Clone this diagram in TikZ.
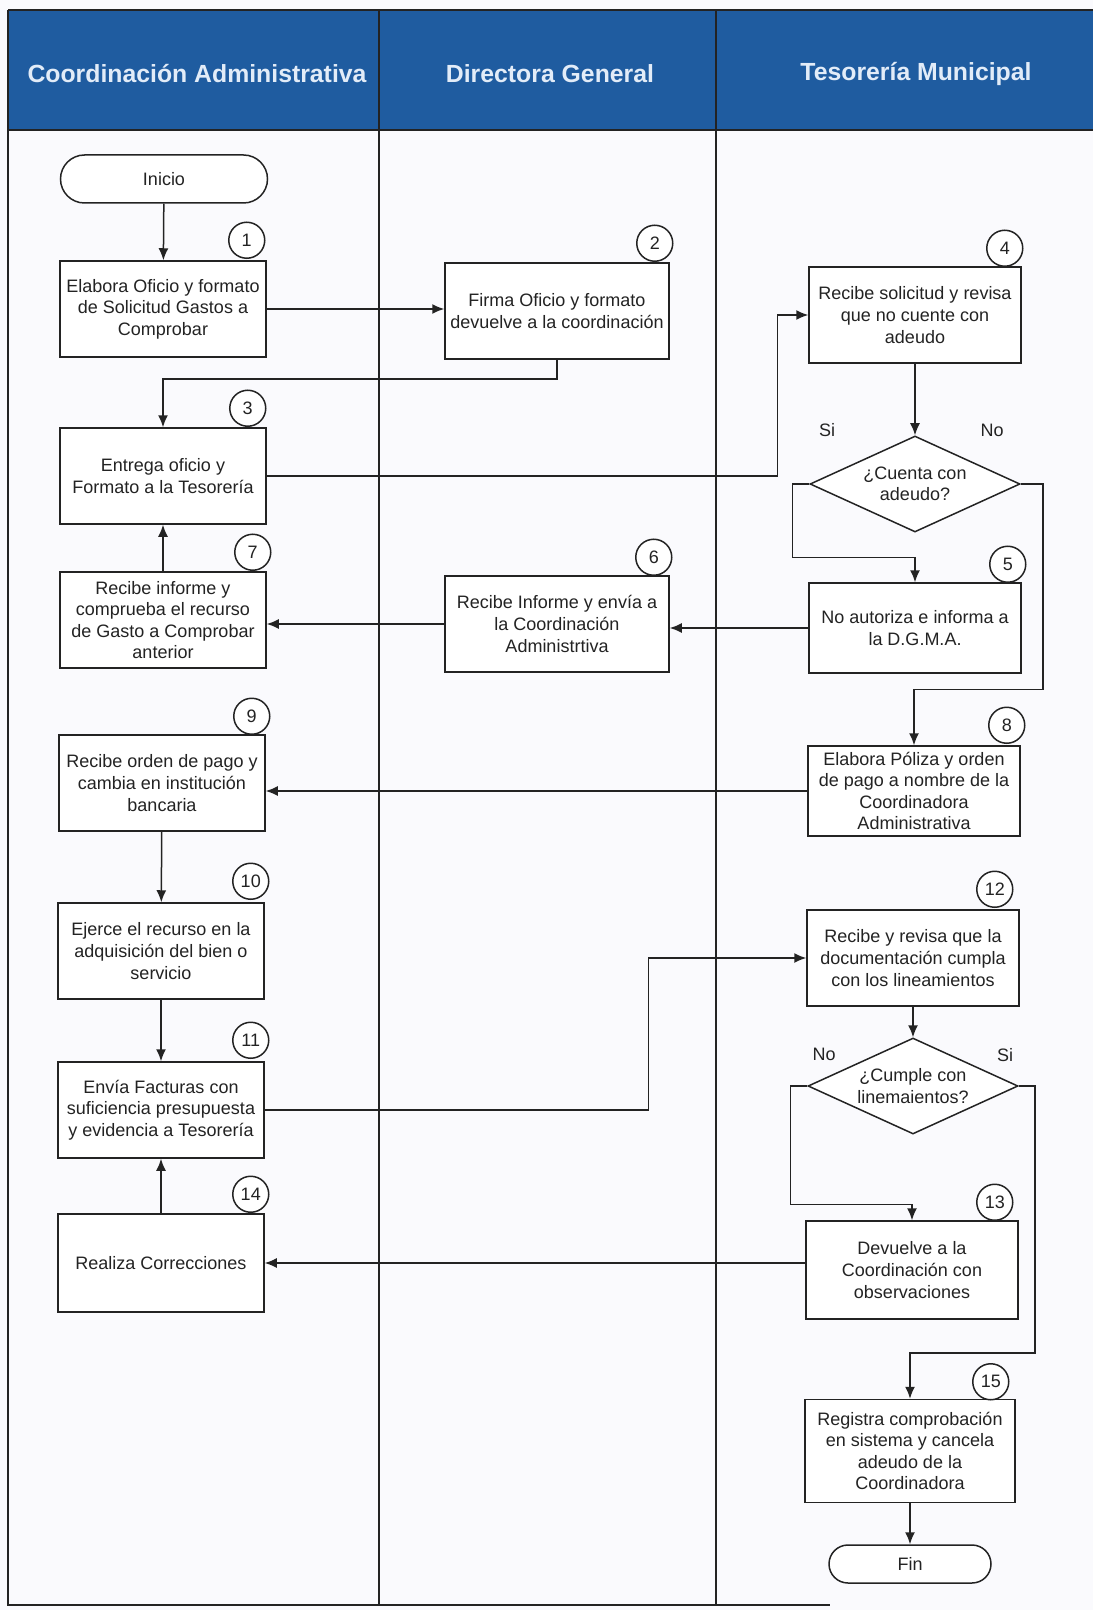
\documentclass[tikz,border=0pt]{standalone}
\usepackage{fontspec}
\setmainfont{Liberation Sans}
\usetikzlibrary{shapes.geometric,arrows.meta}
\definecolor{headblue}{RGB}{31,92,160}
\definecolor{headtext}{RGB}{226,236,248}
\definecolor{paper}{RGB}{250,250,253}
\definecolor{ink}{RGB}{35,35,35}

\begin{document}
\begin{tikzpicture}[x=0.5pt,y=-0.5pt,line width=0.75pt,draw=ink,
    every node/.style={font=\fontsize{9}{10.8}\selectfont,text=ink},
    proc/.style={draw,fill=white,rectangle,align=center,inner sep=0pt,minimum height=48pt},
    coordbox/.style={proc,minimum width=103pt},
    dirbox/.style={proc,minimum width=112pt},
    tesbox/.style={proc,minimum width=106pt},
    term/.style={draw,fill=white,rectangle,align=center,inner sep=0pt},
    decision/.style={draw,fill=white,diamond,aspect=2.2,align=center,inner sep=0pt,minimum width=105pt,minimum height=48pt},
    num/.style={draw,fill=white,circle,minimum size=18pt,inner sep=0pt},
    lanehead/.style={font=\fontsize{12.4}{14}\selectfont\bfseries,text=headtext},
    arr/.style={-{Latex[length=6pt,width=5pt]}}]
        \fill[paper] (0,0) rectangle (1093,1610);
        \fill[headblue] (8,10) rectangle (1093,130);
        \draw (8,10) -- (1093,10);
        \draw (8,130) -- (1093,130);
        \draw (8,10) -- (8,1605) -- (830,1605);
        \draw (379,10) -- (379,1605);
        \draw (716,10) -- (716,1605);
        \node[lanehead] (h1) at (197,74) {Coordinación Administrativa};
        \node[lanehead] (h2) at (550,74) {Directora General};
        \node[lanehead] (h3) at (916,74) {Tesorería Municipal};

        \node[term,minimum width=103.5pt,minimum height=24pt,rounded corners=12pt] (inicio) at (164,179) {Inicio};
        \node[coordbox] (b1) at (163,309) {Elabora Oficio y formato\\de Solicitud Gastos a\\Comprobar};
        \node[dirbox] (b2) at (557,311) {Firma Oficio y formato\\devuelve a la coordinación};
        \node[tesbox] (b4) at (915,315) {Recibe solicitud y revisa\\que no cuente con\\adeudo};
        \node[coordbox] (b3) at (163,476) {Entrega oficio y\\Formato a la Tesorería};
        \node[decision] (d1) at (915,484) {¿Cuenta con\\adeudo?};
        \node (si1) at (827,430) {Si};
        \node (no1) at (992,430) {No};
        \node[tesbox,minimum height=45pt] (b5) at (915,628) {No autoriza e informa a\\la D.G.M.A.};
        \node[dirbox] (b6) at (557,624) {Recibe Informe y envía a\\la Coordinación\\Administrtiva};
        \node[coordbox] (b7) at (163,620) {Recibe informe y\\comprueba el recurso\\de Gasto a Comprobar\\anterior};
        \node[tesbox,minimum height=45pt] (b8) at (914,791) {Elabora Póliza y orden\\de pago a nombre de la\\Coordinadora\\Administrativa};
        \node[coordbox] (b9) at (162,783) {Recibe orden de pago y\\cambia en institución\\bancaria};
        \node[coordbox] (b10) at (161,951) {Ejerce el recurso en la\\adquisición del bien o\\servicio};
        \node[tesbox] (b12) at (913,958) {Recibe y revisa que la\\documentación cumpla\\con los lineamientos};
        \node[coordbox] (b11) at (161,1110) {Envía Facturas con\\suficiencia presupuesta\\y evidencia a Tesorería};
        \node[decision] (d2) at (913,1086) {¿Cumple con\\linemaientos?};
        \node (no2) at (824,1054) {No};
        \node (si2) at (1005,1055) {Si};
        \node[tesbox,minimum height=49pt] (b13) at (912,1270) {Devuelve a la\\Coordinación con\\observaciones};
        \node[coordbox,minimum height=49pt] (b14) at (161,1263) {Realiza Correcciones};
        \node[tesbox,minimum width=105pt,minimum height=51.5pt] (b15) at (910,1451) {Registra comprobación\\en sistema y cancela\\adeudo de la\\Coordinadora};
        \node[term,minimum width=81pt,minimum height=19pt,rounded corners=9.5pt] (fin) at (910,1564) {Fin};

        \node[num] (n1) at ([xshift=-10pt,yshift=10pt]b1.north east) {1};
        \node[num] (n2) at ([xshift=-7.5pt,yshift=9.5pt]b2.north east) {2};
        \node[num] (n3) at ([xshift=-9.5pt,yshift=9.5pt]b3.north east) {3};
        \node[num] (n4) at ([xshift=-8.5pt,yshift=9pt]b4.north east) {4};
        \node[num] (n5) at ([xshift=-7pt,yshift=9pt]b5.north east) {5};
        \node[num] (n6) at ([xshift=-8pt,yshift=9pt]b6.north east) {6};
        \node[num] (n7) at ([xshift=-7pt,yshift=9.5pt]b7.north east) {7};
        \node[num] (n8) at ([xshift=-7pt,yshift=10pt]b8.north east) {8};
        \node[num] (n9) at ([xshift=-7pt,yshift=9pt]b9.north east) {9};
        \node[num] (n10) at ([xshift=-7pt,yshift=10.5pt]b10.north east) {10};
        \node[num] (n11) at ([xshift=-7pt,yshift=10.5pt]b11.north east) {11};
        \node[num] (n12) at ([xshift=-12.5pt,yshift=10pt]b12.north east) {12};
        \node[num] (n13) at ([xshift=-12pt,yshift=9pt]b13.north east) {13};
        \node[num] (n14) at ([xshift=-7pt,yshift=9.5pt]b14.north east) {14};
        \node[num] (n15) at ([xshift=-12.5pt,yshift=8.5pt]b15.north east) {15};

        \draw[arr] (inicio) -- (b1);
        \draw[arr] (b1.east) -- (b1.east -| b2.west);
        \draw[arr] (b2.south) -- ++(0,19) -| (b3.north);
        \draw[arr] (b3.east) -| ([xshift=-15.5pt]b4.west) -- (b4.west);
        \draw[arr] (b4) -- (d1);
        \draw[arr] (d1.west) -- ++(-17,0) |- ([yshift=12.5pt]b5.north) -- (b5.north);
        \draw[arr] (d1.east) -- ++(22,0) |- ([yshift=28pt]b8.north) -- (b8.north);
        \draw[arr] (b5.west) -- (b5.west -| b6.east);
        \draw[arr] (b6.west) -- (b6.west -| b7.east);
        \draw[arr] (b7) -- (b3);
        \draw[arr] (b8.west) -- (b8.west -| b9.east);
        \draw[arr] (b9) -- (b10);
        \draw[arr] (b10) -- (b11);
        \draw[arr] (b11.east) -| ([xshift=-79pt]b12.west) -- (b12.west);
        \draw[arr] (b12) -- (d2);
        \draw[arr] (d2.west) -- ++(-17,0) |- ([yshift=8pt]b13.north) -- (b13.north);
        \draw[arr] (d2.east) -- ++(16,0) |- ([yshift=23pt]b15.north) -- (b15.north);
        \draw[arr] (b13.west |- b14.east) -- (b14.east);
        \draw[arr] (b14) -- (b11);
        \draw[arr] (b15) -- (fin);
    \end{tikzpicture}
\end{document}
